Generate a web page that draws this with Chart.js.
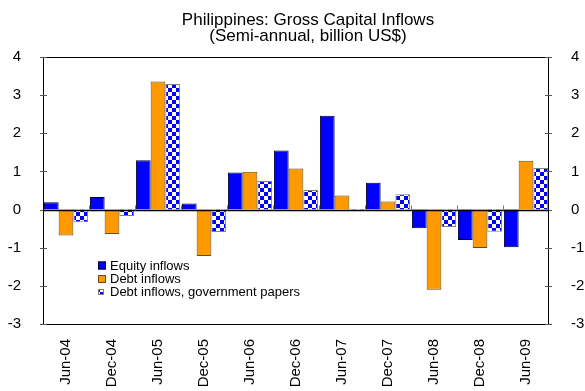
<!DOCTYPE html>
<html>
<head>
<meta charset="utf-8">
<script src="https://cdn.jsdelivr.net/npm/chart.js@4/dist/chart.umd.min.js"></script>
<style>
  html, body { margin: 0; padding: 0; background: #fff; }
</style>
</head>
<body>
<canvas id="inflows" width="585" height="391"></canvas>
<script>
// half-year periods
const periods = ['Jun-04', 'Dec-04', 'Jun-05', 'Dec-05', 'Jun-06', 'Dec-06',
                 'Jun-07', 'Dec-07', 'Jun-08', 'Dec-08', 'Jun-09'];

// billion US$
const equityInflows  = [0.19, 0.33, 1.29, 0.16, 0.97, 1.55, 2.46, 0.70, -0.49, -0.80, -0.99];
const debtInflows    = [-0.68, -0.64, 3.36, -1.22, 0.99, 1.08, 0.37, 0.21, -2.10, -1.01, 1.28];
const govPaperInflows = [-0.33, -0.17, 3.29, -0.59, 0.75, 0.51, -0.03, 0.40, -0.46, -0.58, 1.09];

const yMin = -3;
const yMax = 4;

const titleLines = ['Philippines: Gross Capital Inflows', '(Semi-annual, billion US$)'];

const FONT = '"Liberation Sans", Arial, sans-serif';
const BLUE = '#0000ff';
const ORANGE = '#ff9900';

function checkerPattern(ctx) {
    const c = document.createElement('canvas');
    c.width = 8; c.height = 8;
    const p = c.getContext('2d');
    p.fillStyle = '#ffffff';
    p.fillRect(0, 0, 8, 8);
    p.fillStyle = BLUE;
    p.fillRect(0, 0, 4, 4);
    p.fillRect(4, 4, 4, 4);
    return ctx.createPattern(c, 'repeat');
}

// frame, zero line, tick marks, legend and title drawn on top of the bars
const decorations = {
    id: 'decorations',
    afterDraw(chart) {
        const ctx = chart.ctx;
        const a = chart.chartArea;
        const y = chart.scales.y;
        ctx.save();

        // box round the plot
        ctx.strokeStyle = '#000';
        ctx.lineWidth = 1;
        ctx.strokeRect(a.left + 0.5, a.top + 0.5, a.right - a.left - 1, a.bottom - a.top);

        // tick marks on both value axes
        ctx.strokeStyle = '#555';
        y.ticks.forEach(t => {
            const py = Math.round(y.getPixelForValue(t.value)) + 0.5;
            ctx.beginPath();
            ctx.moveTo(a.left - 3, py); ctx.lineTo(a.left + 4, py);
            ctx.moveTo(a.right - 4, py); ctx.lineTo(a.right + 3, py);
            ctx.stroke();
        });

        // category axis along zero
        const zy = Math.round(y.getPixelForValue(0)) + 0.5;
        ctx.strokeStyle = '#000';
        ctx.lineWidth = 1.5;
        ctx.beginPath();
        ctx.moveTo(a.left, zy); ctx.lineTo(a.right, zy);
        ctx.stroke();

        ctx.lineWidth = 1;
        ctx.strokeStyle = '#777';
        const step = (a.right - a.left) / periods.length;
        for (let i = 1; i < periods.length; i++) {
            const px = Math.round(a.left + step * i) + 0.5;
            ctx.beginPath();
            ctx.moveTo(px, zy - 5); ctx.lineTo(px, zy);
            ctx.stroke();
        }

        // legend inside the plot
        ctx.font = '13px ' + FONT;
        ctx.textBaseline = 'middle';
        ctx.textAlign = 'left';
        const rows = [265.5, 279, 292];
        chart.data.datasets.forEach((ds, i) => {
            const ry = rows[i];
            const size = i === 2 ? 6 : 8;
            ctx.fillStyle = ds.backgroundColor;
            ctx.fillRect(98, ry - size / 2, size, size);
            ctx.strokeStyle = ds.borderColor;
            ctx.strokeRect(98.5, ry - size / 2 + 0.5, size - 1, size - 1);
            ctx.fillStyle = '#000';
            ctx.fillText(ds.label, 110, ry + 0.5);
        });

        // title
        ctx.font = '17px ' + FONT;
        ctx.textAlign = 'center';
        ctx.textBaseline = 'alphabetic';
        ctx.fillStyle = '#000';
        ctx.fillText(titleLines[0], 308, 25);
        ctx.fillText(titleLines[1], 308, 41);

        ctx.restore();
    }
};

const canvas = document.getElementById('inflows');
const ctx = canvas.getContext('2d');
Chart.defaults.color = '#000';
Chart.defaults.font.family = FONT;

new Chart(ctx, {
    type: 'bar',
    data: {
        labels: periods,
        datasets: [{
            label: 'Equity inflows',
            data: equityInflows,
            backgroundColor: BLUE,
            borderColor: '#000033',
            borderWidth: 1
        }, {
            label: 'Debt inflows',
            data: debtInflows,
            backgroundColor: ORANGE,
            borderColor: '#6b4a14',
            borderWidth: 1
        }, {
            label: 'Debt inflows, government papers',
            data: govPaperInflows,
            backgroundColor: checkerPattern(ctx),
            borderColor: '#808080',
            borderWidth: 1
        }]
    },
    options: {
        responsive: false,
        animation: false,
        layout: { padding: { top: 57, left: 0, right: 0, bottom: 0 } },
        datasets: {
            bar: { categoryPercentage: 0.96, barPercentage: 1.0 }
        },
        scales: {
            x: {
                grid: { display: false },
                border: { display: false },
                ticks: {
                    autoSkip: false,
                    minRotation: 90,
                    maxRotation: 90,
                    padding: 7,
                    font: { size: 15 }
                },
                afterFit(scale) { scale.height = 67; }
            },
            y: {
                position: 'left',
                min: yMin,
                max: yMax,
                grid: { display: false },
                border: { display: false },
                ticks: { stepSize: 1, padding: 14, font: { size: 15 } },
                afterFit(scale) { scale.width = 43; }
            },
            y2: {
                position: 'right',
                min: yMin,
                max: yMax,
                grid: { display: false },
                border: { display: false },
                ticks: { stepSize: 1, padding: 14, font: { size: 15 } },
                afterFit(scale) { scale.width = 36; }
            }
        },
        plugins: {
            legend: { display: false },
            title: { display: false },
            tooltip: { enabled: false }
        }
    },
    plugins: [decorations]
});
</script>
</body>
</html>
